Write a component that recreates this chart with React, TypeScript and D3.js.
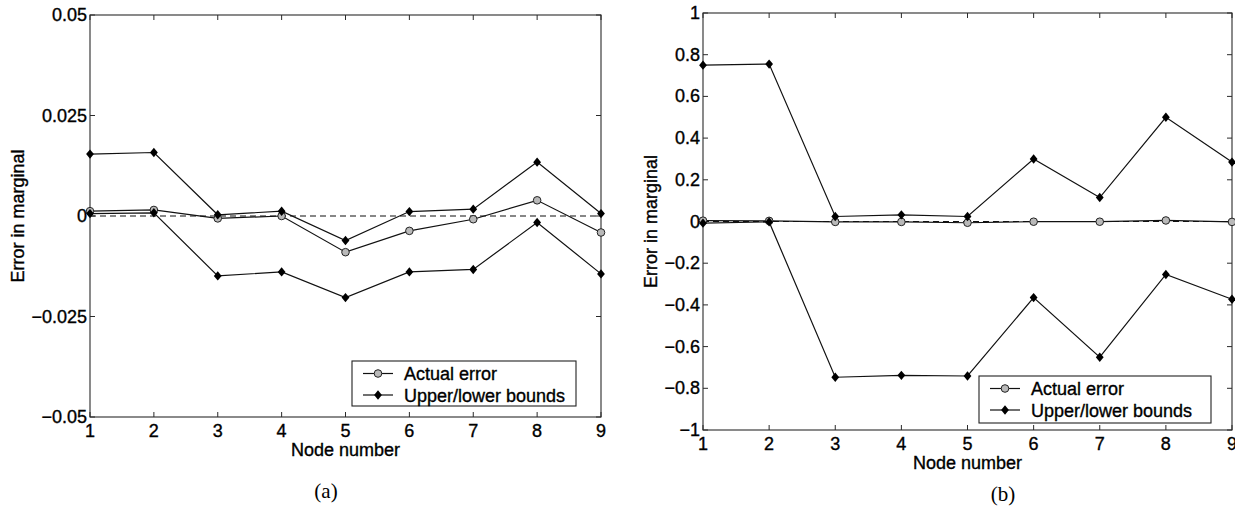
import React from 'react'
import * as d3 from 'd3'

// node numbers on the x axis
const nodes = [1, 2, 3, 4, 5, 6, 7, 8, 9]

// panel (a)
const actualA = [0.0012, 0.0015, -0.0006, 0.0, -0.009, -0.0037, -0.0008, 0.0039, -0.0041]
const upperA = [0.0154, 0.0158, 0.0003, 0.0012, -0.0061, 0.0011, 0.0017, 0.0134, 0.0006]
const lowerA = [0.0006, 0.0008, -0.0149, -0.0139, -0.0203, -0.0139, -0.0133, -0.0016, -0.0144]
const yTicksA = [0.05, 0.025, 0, -0.025, -0.05]
const yLabelsA = ['0.05', '0.025', '0', '\u22120.025', '\u22120.05']

// panel (b)
const actualB = [0.004, 0.003, -0.002, -0.002, -0.006, -0.001, -0.001, 0.005, -0.002]
const upperB = [0.75, 0.755, 0.024, 0.032, 0.024, 0.3, 0.115, 0.5, 0.285]
const lowerB = [-0.008, -0.002, -0.747, -0.738, -0.741, -0.365, -0.651, -0.254, -0.373]
const yTicksB = [1, 0.8, 0.6, 0.4, 0.2, 0, -0.2, -0.4, -0.6, -0.8, -1]
const yLabelsB = ['1', '0.8', '0.6', '0.4', '0.2', '0', '\u22120.2', '\u22120.4', '\u22120.6', '\u22120.8', '\u22121']

const legendLabels = ['Actual error', 'Upper/lower bounds']

const FONT = '"Liberation Sans", Arial, Helvetica, sans-serif'
const AXIS = '#2a2a2a'
const CIRCLE_FILL = '#b9b9b9'
// scanned print looks a touch heavier than plain text
const ink = { fill: '#000', stroke: '#000', strokeWidth: 0.35 }

const diamond = (x: number, y: number) =>
  `M${x},${y - 4.7}L${x + 3.9},${y}L${x},${y + 4.7}L${x - 3.9},${y}Z`

type PanelProps = {
  left: number
  right: number
  top: number
  bottom: number
  domain: [number, number]
  yTicks: number[]
  yLabels: string[]
  actual: number[]
  upper: number[]
  lower: number[]
  yLabelX: number
  legend: { x: number; y: number; w: number; h: number }
  caption: string
  captionX: number
  captionY: number
}

function Panel(p: PanelProps) {
  const x = d3.scaleLinear().domain([1, 9]).range([p.left, p.right])
  const y = d3.scaleLinear().domain(p.domain).range([p.bottom, p.top])
  const line = d3
    .line<number>()
    .x((_, i) => x(nodes[i]))
    .y((d) => y(d))
  const tick = 5
  const midX = (p.left + p.right) / 2
  const midY = (p.top + p.bottom) / 2
  const lg = p.legend

  return (
    <g>
      {/* frame */}
      <rect x={p.left} y={p.top} width={p.right - p.left} height={p.bottom - p.top}
        fill="none" stroke={AXIS} strokeWidth={1.1} />

      {/* x ticks, top and bottom */}
      {nodes.map((n) => (
        <g key={'xt' + n}>
          <line x1={x(n)} x2={x(n)} y1={p.bottom} y2={p.bottom - tick} stroke={AXIS} />
          <line x1={x(n)} x2={x(n)} y1={p.top} y2={p.top + tick} stroke={AXIS} />
          <text x={x(n)} y={p.bottom + 20} textAnchor="middle" fontFamily={FONT} fontSize={18} {...ink}>{n}</text>
        </g>
      ))}

      {/* y ticks, left and right */}
      {p.yTicks.map((t, i) => (
        <g key={'yt' + i}>
          <line x1={p.left} x2={p.left + tick} y1={y(t)} y2={y(t)} stroke={AXIS} />
          <line x1={p.right} x2={p.right - tick} y1={y(t)} y2={y(t)} stroke={AXIS} />
          <text x={p.left - 3} y={y(t) + 6} textAnchor="end" fontFamily={FONT} fontSize={18} {...ink}>{p.yLabels[i]}</text>
        </g>
      ))}

      <text x={midX} y={p.bottom + 39} textAnchor="middle" fontFamily={FONT} fontSize={18} {...ink}>Node number</text>
      <text transform={`translate(${p.yLabelX},${midY}) rotate(-90)`} textAnchor="middle"
        dominantBaseline="central" fontFamily={FONT} fontSize={18} {...ink}>Error in marginal</text>

      {/* zero reference */}
      <line x1={p.left} x2={p.right} y1={y(0)} y2={y(0)} stroke="#111" strokeWidth={1.1} strokeDasharray="6,4" />

      {/* actual error */}
      <path d={line(p.actual) || ''} fill="none" stroke="#111" strokeWidth={1.2} />
      {p.actual.map((v, i) => (
        <circle key={'a' + i} cx={x(nodes[i])} cy={y(v)} r={3.8} fill={CIRCLE_FILL} stroke="#222" strokeWidth={1} />
      ))}

      {/* bounds */}
      <path d={line(p.upper) || ''} fill="none" stroke="#111" strokeWidth={1.2} />
      <path d={line(p.lower) || ''} fill="none" stroke="#111" strokeWidth={1.2} />
      {p.upper.map((v, i) => (
        <path key={'u' + i} d={diamond(x(nodes[i]), y(v))} fill="#000" />
      ))}
      {p.lower.map((v, i) => (
        <path key={'l' + i} d={diamond(x(nodes[i]), y(v))} fill="#000" />
      ))}

      {/* legend */}
      <rect x={lg.x} y={lg.y} width={lg.w} height={lg.h} fill="#fff" stroke="#222" strokeWidth={1.1} />
      {legendLabels.map((lab, i) => {
        const ry = lg.y + 12.5 + i * 21.5
        return (
          <g key={'lg' + i}>
            <line x1={lg.x + 11} x2={lg.x + 41} y1={ry} y2={ry} stroke="#111" strokeWidth={1.2} />
            {i === 0
              ? <circle cx={lg.x + 26} cy={ry} r={3.8} fill={CIRCLE_FILL} stroke="#222" strokeWidth={1} />
              : <path d={diamond(lg.x + 26, ry)} fill="#000" />}
            <text x={lg.x + 52} y={ry + 6.5} fontFamily={FONT} fontSize={18} {...ink}>{lab}</text>
          </g>
        )
      })}

      <text x={p.captionX} y={p.captionY} textAnchor="middle"
        fontFamily='"Liberation Serif", "Times New Roman", serif' fontSize={21}>{p.caption}</text>
    </g>
  )
}

export default function App() {
  return (
    <svg width={1235} height={510} style={{ position: 'absolute', left: 0, top: 0, background: '#fff' }}>
      <Panel left={90} right={601} top={15} bottom={417} domain={[-0.05, 0.05]}
        yTicks={yTicksA} yLabels={yLabelsA} actual={actualA} upper={upperA} lower={lowerA}
        yLabelX={18} legend={{ x: 352, y: 361, w: 224, h: 45 }}
        caption="(a)" captionX={326} captionY={498} />
      <Panel left={703} right={1232} top={13} bottom={430} domain={[-1, 1]}
        yTicks={yTicksB} yLabels={yLabelsB} actual={actualB} upper={upperB} lower={lowerB}
        yLabelX={651} legend={{ x: 979, y: 376, w: 232, h: 47 }}
        caption="(b)" captionX={1003} captionY={501} />
    </svg>
  )
}
